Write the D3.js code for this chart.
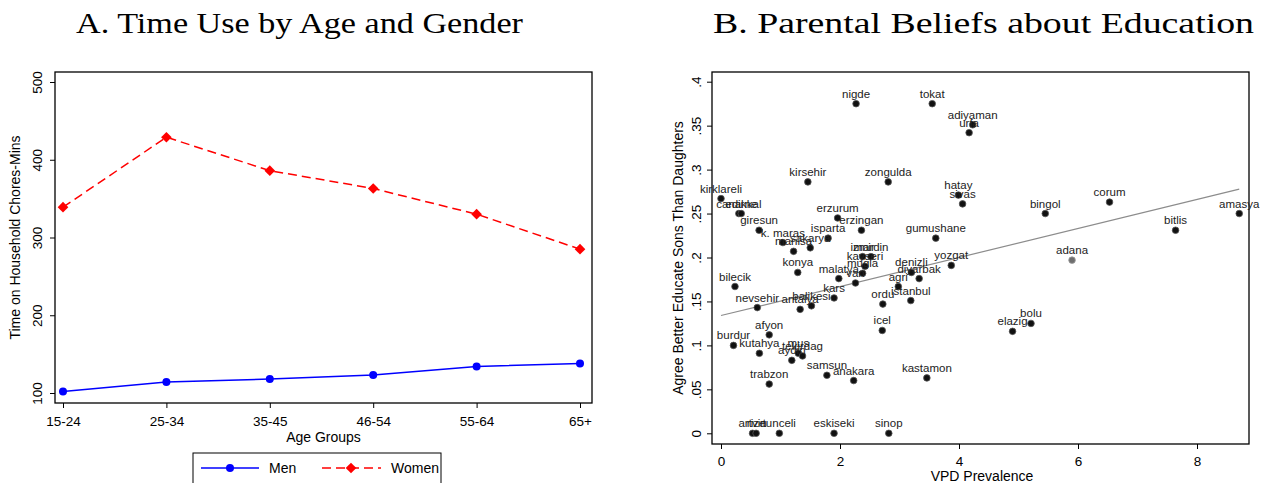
<!DOCTYPE html>
<html>
<head>
<meta charset="utf-8">
<script src="https://cdn.jsdelivr.net/npm/d3@7"></script>
<style>
  body { margin: 0; background: #fff; }
  svg { display: block; }
  text { font-family: "Liberation Sans", Arial, sans-serif; fill: #000; }
  .title { font-family: "Liberation Serif", "DejaVu Serif", serif; }
</style>
</head>
<body>
<svg id="chart" width="1267" height="483"></svg>
<script>
// panel A
const ageGroups = ['15-24', '25-34', '35-45', '46-54', '55-64', '65+'];
const menMins = [102, 114, 118, 123, 134, 138];
const womenMins = [339, 429, 386, 363, 330, 285];
const timeTicks = [100, 200, 300, 400, 500];

// panel B
const provinces = ['nigde', 'tokat', 'adiyaman', 'urfa', 'kirsehir', 'zongulda', 'kirklareli', 'canakkal', 'edirne',
  'hatay', 'sivas', 'corum', 'bingol', 'amasya', 'erzurum', 'giresun', 'erzingan', 'bitlis', 'isparta', 'gumushane',
  'k. maras', 'sakarya', 'manisa', 'izmir', 'mardin', 'adana', 'yozgat', 'kayseri', 'konya', 'denizli', 'mugla',
  'malatya', 'diyarbak', 'van', 'bilecik', 'agri', 'kars', 'istanbul', 'ordu', 'balikesi', 'nevsehir', 'antalya',
  'icel', 'bolu', 'elazig', 'afyon', 'burdur', 'kutahya', 'mus', 'tekirdag', 'aydin', 'samsun', 'kastamon',
  'anakara', 'trabzon', 'artvin', 'rize', 'tunceli', 'eskiseki', 'sinop'];
const vpd = [2.27, 3.55, 4.23, 4.17, 1.46, 2.81, 0.00, 0.30, 0.34,
  3.99, 4.06, 6.53, 5.45, 8.71, 1.96, 0.64, 2.36, 7.64, 1.80, 3.61,
  1.04, 1.50, 1.22, 2.38, 2.52, 5.90, 3.87, 2.42, 1.29, 3.20, 2.38,
  1.98, 3.33, 2.26, 0.235, 2.98, 1.90, 3.19, 2.72, 1.52, 0.61, 1.33,
  2.71, 5.21, 4.90, 0.81, 0.21, 0.645, 1.30, 1.37, 1.19, 1.78, 3.46,
  2.23, 0.81, 0.53, 0.59, 0.98, 1.90, 2.82];
const agreeSons = [0.375, 0.375, 0.351, 0.342, 0.286, 0.286, 0.267, 0.250, 0.250,
  0.271, 0.261, 0.263, 0.250, 0.250, 0.245, 0.231, 0.231, 0.231, 0.222, 0.222,
  0.217, 0.211, 0.207, 0.201, 0.201, 0.197, 0.191, 0.190, 0.183, 0.183, 0.182,
  0.176, 0.176, 0.171, 0.167, 0.167, 0.154, 0.151, 0.147, 0.145, 0.143, 0.141,
  0.117, 0.125, 0.116, 0.112, 0.100, 0.091, 0.091, 0.088, 0.083, 0.066, 0.063,
  0.060, 0.056, 0, 0, 0, 0, 0];
const highlighted = ['adana'];
const fitIntercept = 0.134;
const fitSlope = 0.0165;
const vpdTicks = [0, 2, 4, 6, 8];
const agreeTicks = [0, 0.05, 0.1, 0.15, 0.2, 0.25, 0.3, 0.35, 0.4];

const svg = d3.select('#chart');

// titles
svg.append('text').attr('class', 'title')
  .attr('x', 76).attr('y', 33)
  .attr('font-size', 30)
  .attr('textLength', 447).attr('lengthAdjust', 'spacingAndGlyphs')
  .text('A. Time Use by Age and Gender');
svg.append('text').attr('class', 'title')
  .attr('x', 713).attr('y', 33)
  .attr('font-size', 30)
  .attr('textLength', 541).attr('lengthAdjust', 'spacingAndGlyphs')
  .text('B. Parental Beliefs about Education');

// ---------- panel A ----------
const boxA = { x0: 55, x1: 592, y0: 72, y1: 403 };
const xA = d3.scalePoint().domain(ageGroups).range([63, 580]);
const yA = d3.scaleLinear().domain([100, 500]).range([393, 82]);

const gA = svg.append('g');
gA.append('rect')
  .attr('x', boxA.x0).attr('y', boxA.y0)
  .attr('width', boxA.x1 - boxA.x0).attr('height', boxA.y1 - boxA.y0)
  .attr('fill', 'none').attr('stroke', '#000').attr('stroke-width', 1.3);

const axAx = gA.append('g').attr('transform', `translate(0,${boxA.y1})`)
  .call(d3.axisBottom(xA).tickSize(5).tickPadding(5));
axAx.select('.domain').remove();
axAx.selectAll('text').attr('font-size', 13.5).attr('dy', '0.95em');

const ayAx = gA.append('g').attr('transform', `translate(${boxA.x0},0)`)
  .call(d3.axisLeft(yA).tickValues(timeTicks).tickSize(5).tickFormat(d3.format('d')));
ayAx.select('.domain').remove();
ayAx.selectAll('text')
  .attr('font-size', 13.5)
  .attr('text-anchor', 'middle')
  .attr('x', 0).attr('dy', 0)
  .attr('transform', 'translate(-13,0) rotate(-90)');

gA.append('text').attr('x', (boxA.x0 + boxA.x1) / 2).attr('y', 442)
  .attr('text-anchor', 'middle').attr('font-size', 14).text('Age Groups');
gA.append('text')
  .attr('transform', `translate(20,${(boxA.y0 + boxA.y1) / 2}) rotate(-90)`)
  .attr('text-anchor', 'middle').attr('font-size', 14)
  .text('Time on Household Chores-Mins');

const lineA = d3.line().x((d) => xA(d.age)).y((d) => yA(d.v));
const menData = ageGroups.map((age, i) => ({ age, v: menMins[i] }));
const womenData = ageGroups.map((age, i) => ({ age, v: womenMins[i] }));

gA.append('path').datum(menData)
  .attr('d', lineA).attr('fill', 'none')
  .attr('stroke', '#0000ff').attr('stroke-width', 1.5);
gA.selectAll('.men').data(menData).join('circle')
  .attr('class', 'men')
  .attr('cx', (d) => xA(d.age)).attr('cy', (d) => yA(d.v))
  .attr('r', 4).attr('fill', '#0000ff');

gA.append('path').datum(womenData)
  .attr('d', lineA).attr('fill', 'none')
  .attr('stroke', '#ff0000').attr('stroke-width', 1.5)
  .attr('stroke-dasharray', '9,5');
const diamond = d3.symbol().type(d3.symbolDiamond2).size(72);
gA.selectAll('.women').data(womenData).join('path')
  .attr('class', 'women')
  .attr('transform', (d) => `translate(${xA(d.age)},${yA(d.v)})`)
  .attr('d', diamond).attr('fill', '#ff0000');

// legend
const leg = gA.append('g');
leg.append('rect').attr('x', 193).attr('y', 453).attr('width', 248).attr('height', 34)
  .attr('fill', '#fff').attr('stroke', '#000').attr('stroke-width', 1);
leg.append('line').attr('x1', 201).attr('x2', 259).attr('y1', 468).attr('y2', 468)
  .attr('stroke', '#0000ff').attr('stroke-width', 1.5);
leg.append('circle').attr('cx', 230).attr('cy', 468).attr('r', 4).attr('fill', '#0000ff');
leg.append('text').attr('x', 269).attr('y', 473).attr('font-size', 14).text('Men');
leg.append('line').attr('x1', 322).attr('x2', 381).attr('y1', 468).attr('y2', 468)
  .attr('stroke', '#ff0000').attr('stroke-width', 1.5).attr('stroke-dasharray', '9,5');
leg.append('path').attr('transform', 'translate(351,468)').attr('d', diamond).attr('fill', '#ff0000');
leg.append('text').attr('x', 391).attr('y', 473).attr('font-size', 14).text('Women');

// ---------- panel B ----------
const boxB = { x0: 712, x1: 1249, y0: 72, y1: 444 };
const xB = d3.scaleLinear().domain([0, 8]).range([721, 1197]);
const yB = d3.scaleLinear().domain([0, 0.4]).range([433.3, 81.7]);

const gB = svg.append('g');
gB.append('rect')
  .attr('x', boxB.x0).attr('y', boxB.y0)
  .attr('width', boxB.x1 - boxB.x0).attr('height', boxB.y1 - boxB.y0)
  .attr('fill', 'none').attr('stroke', '#000').attr('stroke-width', 1.3);

const bxAx = gB.append('g').attr('transform', `translate(0,${boxB.y1})`)
  .call(d3.axisBottom(xB).tickValues(vpdTicks).tickSize(5).tickPadding(4));
bxAx.select('.domain').remove();
bxAx.selectAll('text').attr('font-size', 13.5).attr('dy', '0.95em');

const fmtB = (d) => (d === 0 ? '0' : d3.format('.2~f')(d).replace(/^0/, ''));
const byAx = gB.append('g').attr('transform', `translate(${boxB.x0},0)`)
  .call(d3.axisLeft(yB).tickValues(agreeTicks).tickSize(5).tickFormat(fmtB));
byAx.select('.domain').remove();
byAx.selectAll('text')
  .attr('font-size', 13.5)
  .attr('text-anchor', 'middle')
  .attr('x', 0).attr('dy', 0)
  .attr('transform', 'translate(-11,0) rotate(-90)');

gB.append('text').attr('x', 982).attr('y', 481)
  .attr('text-anchor', 'middle').attr('font-size', 14).text('VPD Prevalence');
gB.append('text')
  .attr('transform', `translate(683,${(boxB.y0 + boxB.y1) / 2}) rotate(-90)`)
  .attr('text-anchor', 'middle').attr('font-size', 14)
  .text('Agree Better Educate Sons Than Daughters');

// fitted line
const xExt = d3.extent(vpd);
const fitData = xExt.map((x) => ({ x, y: fitIntercept + fitSlope * x }));
gB.append('path').datum(fitData)
  .attr('d', d3.line().x((d) => xB(d.x)).y((d) => yB(d.y)))
  .attr('fill', 'none').attr('stroke', '#8c8c8c').attr('stroke-width', 1.2);

const pts = provinces.map((name, i) => ({ name, x: vpd[i], y: agreeSons[i] }));
gB.selectAll('.pt').data(pts).join('circle')
  .attr('class', 'pt')
  .attr('cx', (d) => xB(d.x)).attr('cy', (d) => yB(d.y))
  .attr('r', 3.3)
  .attr('fill', (d) => (highlighted.includes(d.name) ? '#6e6e6e' : '#111'))
  .attr('stroke', (d) => (highlighted.includes(d.name) ? '#9a9a9a' : '#555'))
  .attr('stroke-width', 0.8);
gB.selectAll('.lbl').data(pts).join('text')
  .attr('class', 'lbl')
  .attr('x', (d) => xB(d.x)).attr('y', (d) => yB(d.y) - 6)
  .attr('text-anchor', 'middle').attr('font-size', 11.5)
  .style('fill', '#222')
  .text((d) => d.name);
</script>
</body>
</html>
